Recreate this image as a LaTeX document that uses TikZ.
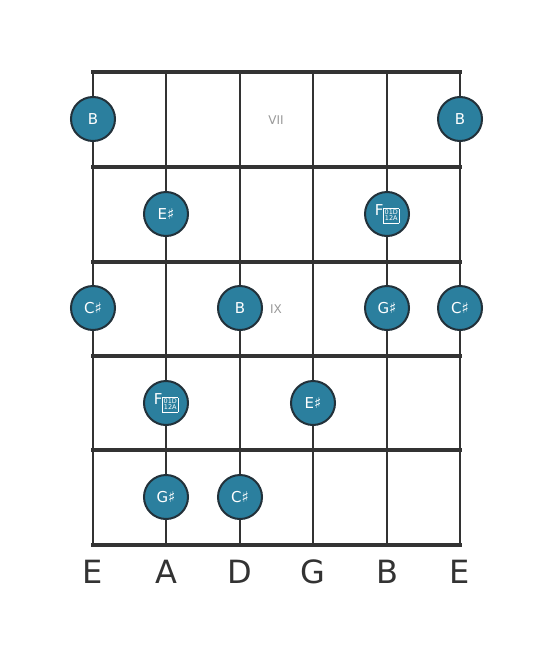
\documentclass[tikz,border=0pt]{standalone}
\usepackage{fontspec}
\setmainfont{DejaVu Sans}
\newcommand{\tofubox}{\raisebox{-2.2pt}{\setlength{\fboxrule}{0.6pt}\setlength{\fboxsep}{0.6pt}\fbox{\fontsize{6.5}{6.5}\selectfont\renewcommand{\arraystretch}{0.85}\setlength{\tabcolsep}{0pt}\begin{tabular}{@{}c@{}}01D\\12A\end{tabular}}}}
\begin{document}
\begin{tikzpicture}[x=1pt,y=-1pt,
  fretline/.style={line width=4.5pt,draw=linecol},
  stringline/.style={line width=2.6pt,draw=linecol},
  note/.style={circle,minimum size=44pt,inner sep=0pt,fill=notefill,draw=notedraw,line width=2pt,text=white,font=\fontsize{15}{15}\selectfont},
  fretpos/.style={font=\fontsize{12}{12}\selectfont,text=gray!80},
  strlabel/.style={font=\fontsize{32}{32}\selectfont,text=linecol}
]
\definecolor{linecol}{HTML}{333333}
\definecolor{notefill}{HTML}{2B7F9E}
\definecolor{notedraw}{HTML}{22313A}
\useasboundingbox (0,0) rectangle (553,656);
\fill[white] (0,0) rectangle (553,656);
% strings
\foreach \i/\x in {1/93,2/166,3/240,4/313,5/387,6/460}{
  \coordinate (st\i) at (\x,72);
  \coordinate (sb\i) at (\x,545);
  \draw[stringline] (st\i) -- (sb\i);
}
% frets
\foreach \j/\y in {0/72,1/167,2/262,3/356,4/450,5/545}{
  \coordinate (fl\j) at (93,\y);
  \coordinate (fr\j) at (460,\y);
  \draw[fretline,line cap=rect] (fl\j) -- (fr\j);
}
\node[fretpos] (p7) at (276,120) {VII};
\node[fretpos] (p9) at (276,309) {IX};
% notes
\node[note] (n1) at (93,119) {B};
\node[note] (n2) at (460,119) {B};
\node[note] (n3) at (166,214) {E♯};
\node[note] (n4) at (387,214) {F\tofubox};
\node[note] (n5) at (93,308) {C♯};
\node[note] (n6) at (240,308) {B};
\node[note] (n7) at (387,308) {G♯};
\node[note] (n8) at (460,308) {C♯};
\node[note] (n9) at (166,403) {F\tofubox};
\node[note] (n10) at (313,403) {E♯};
\node[note] (n11) at (166,497) {G♯};
\node[note] (n12) at (240,497) {C♯};
% labels
\foreach \i/\t in {1/E,2/A,3/D,4/G,5/B,6/E}{
  \node[strlabel,anchor=base] (l\i) at ([yshift=-38pt]sb\i) {\t};
}
\end{tikzpicture}
\end{document}
